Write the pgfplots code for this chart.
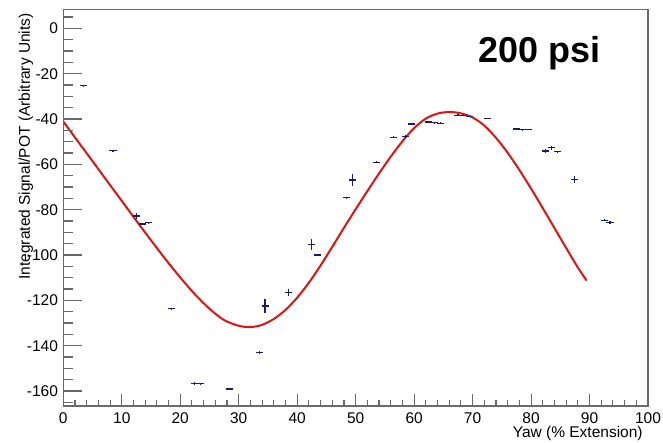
\documentclass[border=0pt]{standalone}
\usepackage{pgfplots}
\pgfplotsset{compat=1.18}
\usepackage{fontspec}
\setmainfont{Liberation Sans}
\definecolor{pts}{RGB}{25,25,110}
\definecolor{fitred}{RGB}{222,20,20}
\definecolor{framegray}{RGB}{105,105,105}

\pgfplotstableread{
x     y       ex    ey
3.5   -25.3   0.6   0.4
8.5   -54.0   0.6   0.4
12.5  -82.8   0.6   1.5
13.5  -86.3   0.6   0.4
14.5  -85.8   0.6   0.4
18.5  -123.7  0.6   0.4
22.5  -156.5  0.6   0.7
23.5  -156.8  0.6   0.3
28.5  -159.1  0.6   0.3
33.5  -142.9  0.6   0.6
34.5  -122.5  0.6   3.0
38.5  -116.6  0.6   1.5
42.5  -95.4   0.6   2.5
43.5  -100.0  0.6   0.4
48.5  -74.7   0.6   0.4
49.5  -66.9   0.6   2.8
53.5  -59.1   0.6   0.4
56.5  -48.1   0.6   0.4
58.5  -47.8   0.6   0.6
59.5  -42.2   0.6   0.6
62.5  -41.3   0.6   0.3
63.5  -41.6   0.6   0.3
64.5  -41.8   0.6   0.3
67.5  -38.3   0.6   0.3
68.5  -38.3   0.6   0.3
69.5  -38.8   0.6   0.3
72.5  -39.7   0.6   0.3
77.5  -44.4   0.6   0.3
78.5  -44.8   0.6   0.3
79.5  -44.6   0.6   0.3
82.5  -54.1   0.6   1.0
83.5  -52.7   0.6   1.0
84.5  -54.4   0.6   0.5
87.5  -66.6   0.6   1.5
92.5  -84.6   0.6   0.3
93.5  -85.6   0.6   0.5
}\datatable

\pgfplotstableread{
x     y
0     -41.1
2.5   -49.9
5     -58.6
7.5   -67.4
10    -76.1
12.5  -84.9
15    -93.5
17.5  -101.9
20    -109.9
22.5  -117.3
25    -123.7
27.5  -128.7
30    -131.2
32    -131.8
34    -130.8
36    -128.2
38    -124.2
40    -118.8
42    -112.2
44    -104.6
46    -96.4
48    -88.0
50    -79.8
52    -71.8
54    -64.0
56    -56.6
58    -49.8
60    -44.0
62    -39.8
64    -37.6
66    -36.9
68    -37.5
70    -39.3
72    -42.9
74    -48.3
76    -54.9
78    -62.5
80    -70.7
82    -79.3
84    -88.1
86    -96.9
88    -105.5
89.5  -111.3
}\fittable

\begin{document}
\fontsize{15.5}{18}\selectfont
\begin{tikzpicture}
\useasboundingbox (-63.3pt,-36pt) rectangle (599.7pt,406pt);
\pgfplotsset{
  common/.style={
    scale only axis, width=584.7pt, height=396.7pt,
    xmin=0, xmax=100, ymin=-166.6, ymax=8.4,
    at={(0pt,0pt)}, anchor=south west,
    axis line style={framegray, line width=1.3pt},
    tick style={framegray, line width=1.1pt},
    tick align=inside,
    /pgf/number format/assume math mode=true,
  }
}
\begin{axis}[common,
  xtick={0,10,...,100},
  xticklabels={0,10,20,30,40,50,60,70,80,90,100},
  minor xtick={0,2,...,100},
  xtick pos=left,
  ytick=\empty,
  major tick length=12pt, minor tick length=6pt,
  xticklabel style={anchor=base, yshift=-17pt, font=\fontsize{15.5}{18}\selectfont},
]
\addplot[fitred, line width=2pt, smooth] table[x=x, y=y] {\fittable};
\addplot[draw=none, mark=none,
  error bars/.cd, x dir=both, x explicit, y dir=both, y explicit,
  error mark=none, error bar style={draw=pts, line width=1.1pt, solid}]
  table[x=x, y=y, x error=ex, y error=ey] {\datatable};
\node[anchor=base west, font=\fontsize{36}{42}\selectfont\bfseries] at (axis cs:70.1,-15.1) {200 psi};
\end{axis}
\begin{axis}[common, hide x axis,
  ytick={-160,-140,...,0},
  yticklabels={-160,-140,-120,-100,-80,-60,-40,-20,0},
  minor ytick={-165,-160,...,5},
  ytick pos=left,
  major tick length=19pt, minor tick length=9.5pt,
  yticklabel style={font=\fontsize{15.5}{18}\selectfont},
]
\end{axis}
\node[rotate=90, anchor=base east] at (-33.3pt,398pt) {Integrated Signal/POT (Arbitrary Units)};
\node[anchor=base east] at (584.7pt,-31pt) {Yaw (\% Extension)};
\end{tikzpicture}
\end{document}
